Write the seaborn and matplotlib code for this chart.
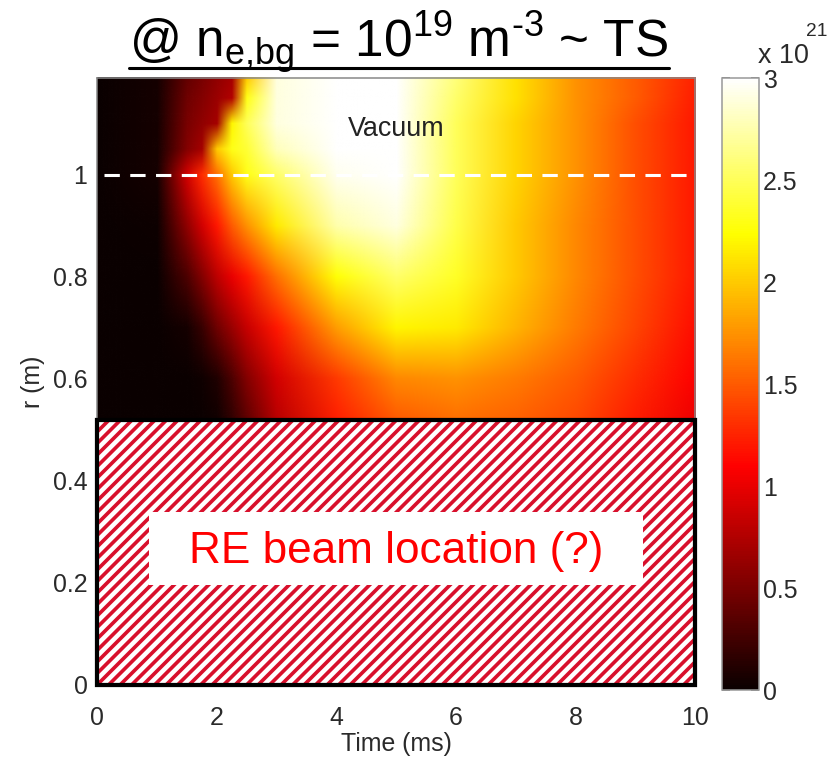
import numpy as np
import matplotlib
matplotlib.use("Agg")
import matplotlib.pyplot as plt
import seaborn as sns
from matplotlib.patches import Rectangle
from matplotlib.lines import Line2D
from matplotlib.image import NonUniformImage

# ---------------- data (density in units of 1e21 m^-3) ----------------
times = [0, 1, 1.5, 1.75, 2, 2.25, 2.5, 3, 4, 5, 6, 7, 8, 9, 10]      # ms
radii = [0.5, 0.6, 0.7, 0.8, 0.9, 1.0, 1.05, 1.1, 1.15, 1.19]          # m
dens_r050 = [0, 0, 0, 0, 0.02, 0.15, 0.35, 0.75, 1.2, 1.45, 1.55, 1.5, 1.4, 1.2, 1.0]
dens_r060 = [0, 0, 0, 0.03, 0.1, 0.3, 0.55, 0.9, 1.35, 1.7, 1.75, 1.65, 1.5, 1.3, 1.1]
dens_r070 = [0, 0, 0.05, 0.2, 0.45, 0.65, 0.85, 1.2, 1.8, 2.2, 2.15, 1.9, 1.65, 1.4, 1.15]
dens_r080 = [0, 0, 0.3, 0.55, 0.8, 1.0, 1.2, 1.6, 2.25, 2.55, 2.35, 2.0, 1.7, 1.45, 1.2]
dens_r090 = [0, 0.02, 0.6, 0.9, 1.2, 1.5, 1.75, 2.15, 2.75, 2.9, 2.45, 2.0, 1.7, 1.45, 1.2]
dens_r100 = [0, 0.05, 0.9, 1.3, 1.6, 2.0, 2.3, 2.55, 2.95, 3.0, 2.5, 2.05, 1.75, 1.45, 1.2]
dens_r105 = [0, 0.05, 0.55, 0.7, 2.0, 2.3, 2.4, 2.8, 3.0, 3.0, 2.5, 2.05, 1.75, 1.45, 1.2]
dens_r110 = [0, 0.05, 0.5, 0.6, 0.7, 2.2, 2.5, 2.9, 3.0, 3.0, 2.5, 2.05, 1.75, 1.45, 1.2]
dens_r115 = [0, 0.05, 0.45, 0.55, 0.65, 0.75, 2.3, 2.9, 3.0, 3.0, 2.55, 2.1, 1.75, 1.5, 1.22]
dens_r119 = [0, 0.05, 0.4, 0.5, 0.6, 0.7, 2.0, 2.9, 3.0, 3.0, 2.6, 2.1, 1.75, 1.5, 1.25]

x_ticks = [0, 2, 4, 6, 8, 10]
y_ticks = [0, 0.2, 0.4, 0.6, 0.8, 1.0]
y_tick_labels = ["0", "0.2", "0.4", "0.6", "0.8", "1"]
cbar_ticks = [0, 0.5, 1, 1.5, 2, 2.5, 3]
cbar_tick_labels = ["0", "0.5", "1", "1.5", "2", "2.5", "3"]
vacuum_boundary_r = 1.0
beam_r_max = 0.52

# ---------------- style ----------------
sns.set_theme(style="white")
plt.rcParams["font.family"] = ["Liberation Sans", "DejaVu Sans"]
plt.rcParams["mathtext.fontset"] = "custom"
plt.rcParams["mathtext.rm"] = "Liberation Sans"
plt.rcParams["mathtext.it"] = "Liberation Sans"
plt.rcParams["hatch.linewidth"] = 1.9

DPI = 138
fig = plt.figure(figsize=(828 / DPI, 767 / DPI), dpi=DPI)
ax = fig.add_axes([97 / 828, 1 - 685 / 767, 598 / 828, 607 / 767])
cax = fig.add_axes([722 / 828, 1 - 690 / 767, 37 / 828, 612 / 767])

Z = np.array([dens_r050, dens_r060, dens_r070, dens_r080, dens_r090,
              dens_r100, dens_r105, dens_r110, dens_r115, dens_r119])
cmap = sns.color_palette("hot", as_cmap=True)
im = NonUniformImage(ax, interpolation="bilinear", cmap=cmap,
                     extent=(times[0], times[-1], radii[0], radii[-1]))
im.set_data(np.array(times, float), np.array(radii, float), Z)
im.set_clim(0, 3)
ax.add_image(im)

ax.set_xlim(0, 10)
ax.set_ylim(0, 1.19)

# dashed vacuum boundary
ax.axhline(vacuum_boundary_r, xmin=0.012, color="white", lw=1.6,
           ls=(0, (5.0, 3.4)), zorder=3)
ax.text(5.0, 1.09, "Vacuum", ha="center", va="center", fontsize=14,
        color="#222222", zorder=4)

# RE beam hatched region
ax.add_patch(Rectangle((0, 0), 10, beam_r_max, facecolor="white",
                       edgecolor="#d8102c", hatch="////", lw=0, zorder=5))
ax.add_patch(Rectangle((0, 0), 10, beam_r_max, fill=False,
                       edgecolor="black", lw=2.2, zorder=7, clip_on=False))
ax.add_patch(Rectangle((0.87, 0.196), 8.26, 0.143, facecolor="white",
                       edgecolor="none", zorder=6))
ax.text(5.0, 0.262, "RE beam location (?)", ha="center", va="center",
        fontsize=23, color="#ff0000", zorder=8)

# axes styling
ax.set_xticks(x_ticks)
ax.set_yticks(y_ticks)
ax.set_yticklabels(y_tick_labels)
ax.tick_params(direction="in", length=4, width=0.8, color="#666666",
               labelsize=13, labelcolor="#2a2a2a", pad=5)
ax.tick_params(axis="x", pad=11)
for s in ax.spines.values():
    s.set_color("#888888")
    s.set_linewidth(0.8)
ax.set_xlabel("Time (ms)", fontsize=13, color="#2a2a2a", labelpad=1)
ax.set_ylabel("r (m)", fontsize=13, color="#2a2a2a", labelpad=4)

# colorbar
cb = fig.colorbar(im, cax=cax, ticks=cbar_ticks)
cb.ax.set_yticklabels(cbar_tick_labels)
cb.outline.set_edgecolor("#999999")
cb.outline.set_linewidth(0.8)
cax.tick_params(direction="in", left=True, right=True, length=4, width=0.8,
                color="#666666", labelsize=13, labelcolor="#2a2a2a", pad=2)
fig.text(783 / 828, 1 - 56 / 767, "x 10", ha="center", va="center",
         fontsize=14, color="#2a2a2a")
fig.text(817 / 828, 1 - 31 / 767, "21", ha="center", va="center",
         fontsize=10, color="#2a2a2a")

# title with underline
title = fig.text(399 / 828, 1 - 58 / 767,
                 r"@ n$_{\text{e,bg}}$ = 10$^{\text{19}}$ m$^{\text{-3}}$ ~ TS",
                 ha="center", va="baseline", fontsize=26.8, color="black")
fig.canvas.draw()
bb = title.get_window_extent().transformed(fig.transFigure.inverted())
y_ul = 1 - 68 / 767
fig.add_artist(Line2D([bb.x0, bb.x1], [y_ul, y_ul], color="black", lw=1.6,
                      transform=fig.transFigure))

fig.savefig("out.png", dpi=DPI)
